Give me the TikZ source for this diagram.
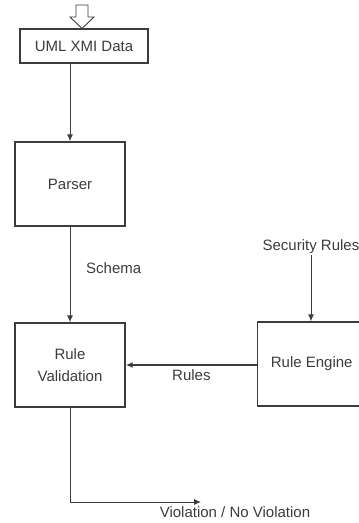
\documentclass[tikz,border=0pt]{standalone}
\usepackage{fontspec}
\setmainfont{Liberation Sans}
\usetikzlibrary{arrows.meta, positioning, calc}
\definecolor{inkgray}{RGB}{60,60,60}
\tikzset{
    flowblock/.style={rectangle, draw=inkgray, line width=1.4pt, minimum width=110pt, minimum height=84pt, align=center, text=inkgray, font=\fontsize{15}{22}\selectfont, inner sep=2pt},
    flowarrow/.style={-{Latex[length=7pt, width=6pt]}, draw=inkgray, line width=0.9pt},
    flowlabel/.style={font=\fontsize{15}{18}\selectfont, text=inkgray, inner sep=1pt}
}

\begin{document}
\begin{tikzpicture}[x=1pt, y=-1pt]

\useasboundingbox (0,0) rectangle (359,523);

\node[flowblock, minimum width=128pt, minimum height=34pt] (xmi) at (84,46) {UML XMI Data};
\node[flowblock] (parser) at (70,184) {Parser};
\node[flowblock] (validation) at (70,365) {Rule\\Validation};
\node[flowblock, minimum width=108pt, anchor=west] (engine) at (257,364) {Rule Engine};

\node[flowlabel] (secrules) at (311,247) {Security Rules};
\node[flowlabel, anchor=west] (schema) at (85,268) {Schema};
\node[flowlabel] (verdict) at (235,512) {Violation / No Violation};
\coordinate (bend) at (70,502);
\coordinate (outlet) at (201,502);

% hollow input arrow
\draw[inkgray, line width=0.9pt, fill=white] (76,5) -- (88,5) -- (88,17) -- (94,17) -- (82,28.5) -- (70,17) -- (76,17) -- cycle;

\draw[flowarrow] (xmi.south -| parser.north) -- (parser.north);
\draw[flowarrow] (parser.south) -- (validation.north);
\draw[flowarrow] (secrules.south) -- (engine.north -| secrules.south);
\draw[flowarrow, line width=1.6pt] (engine.west |- validation.east) -- node[flowlabel, below=3pt] (ruleslabel) {Rules} (validation.east);
\draw[flowarrow] (validation.south) -- (bend) -- (outlet);

\end{tikzpicture}
\end{document}
